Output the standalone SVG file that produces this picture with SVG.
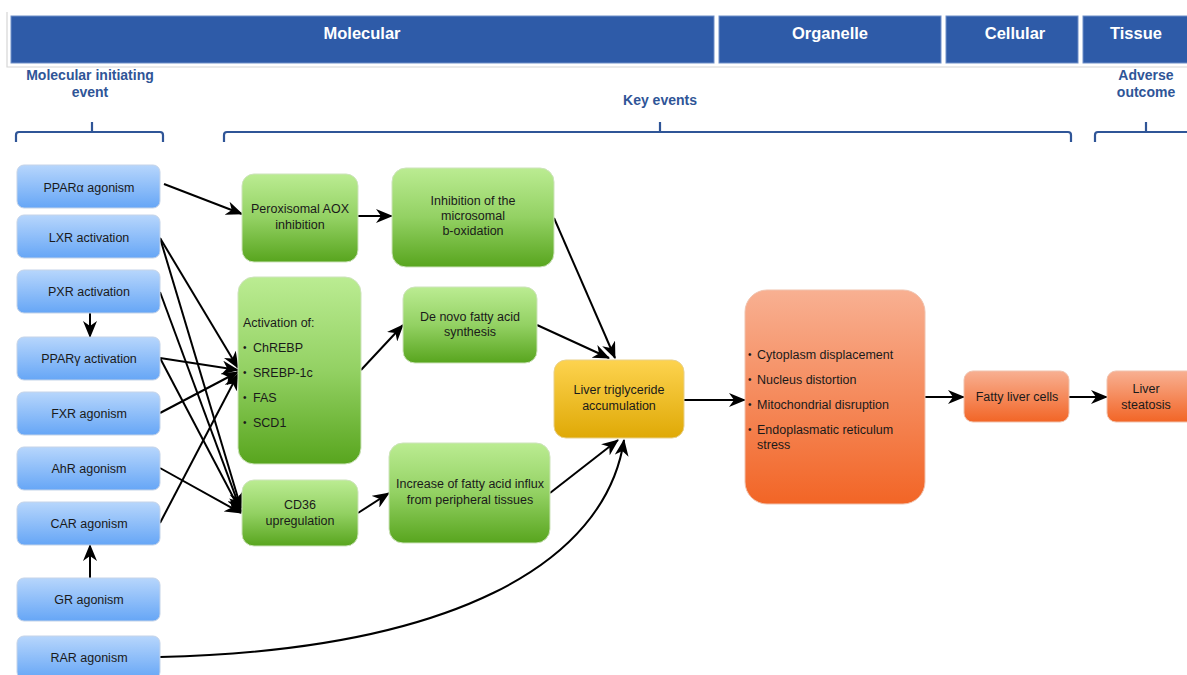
<svg xmlns="http://www.w3.org/2000/svg" width="1187" height="675" viewBox="0 0 1187 675">
<defs>
<style>
.hdr{fill:#2E5BA8;stroke:#6f8fc8;stroke-width:1}
.htx{font-family:"Liberation Sans",Arial,sans-serif;font-weight:bold;font-size:16.5px;fill:#ffffff;text-anchor:middle}
.lbl{font-family:"Liberation Sans",Arial,sans-serif;font-weight:bold;font-size:14px;fill:#2F5597;text-anchor:middle}
.brace{fill:none;stroke:#2F5597;stroke-width:2.2}
.blue{fill:url(#gBlue);stroke:#c4d3e8;stroke-width:1}
.green{fill:url(#gGreen);stroke:#cde3bb;stroke-width:1}
.yellow{fill:url(#gYellow);stroke:#e8d08a;stroke-width:1}
.orange{fill:url(#gOrange);stroke:#f0c2ad;stroke-width:1}
.t{font-family:"Liberation Sans",Arial,sans-serif;font-size:12.5px;fill:#1a1a1a;text-anchor:middle}
.tl{font-family:"Liberation Sans",Arial,sans-serif;font-size:12.5px;fill:#1a1a1a}
.bu{font-family:"Liberation Sans",Arial,sans-serif;font-size:10px;fill:#1a1a1a}
.c{fill:none;stroke:#000;stroke-width:2;marker-end:url(#arr)}
</style>
<linearGradient id="gBlue" x1="0" y1="0" x2="0" y2="1"><stop offset="0" stop-color="#B7D6FC"/><stop offset="1" stop-color="#66A6F6"/></linearGradient>
<linearGradient id="gGreen" x1="0" y1="0" x2="0" y2="1"><stop offset="0" stop-color="#BBEC92"/><stop offset="0.5" stop-color="#93D163"/><stop offset="1" stop-color="#58A51E"/></linearGradient>
<linearGradient id="gYellow" x1="0" y1="0" x2="0" y2="1"><stop offset="0" stop-color="#FDD34F"/><stop offset="1" stop-color="#DFA906"/></linearGradient>
<linearGradient id="gOrange" x1="0" y1="0" x2="0" y2="1"><stop offset="0" stop-color="#F8B092"/><stop offset="1" stop-color="#F26526"/></linearGradient>
<marker id="arr" viewBox="0 0 17 14" refX="16" refY="7" markerWidth="17" markerHeight="14" orient="auto" markerUnits="userSpaceOnUse">
<path d="M0,0 L17,7 L0,14 L5,7 z" fill="#000"/>
</marker>
</defs>
<rect width="1187" height="675" fill="#ffffff"/>

<g id="header">
<path d="M7,12 V67 H1187" fill="none" stroke="#d6d6d6" stroke-width="1.2"/>
<rect class="hdr" x="11" y="16" width="703" height="47"/>
<rect class="hdr" x="719" y="16" width="222" height="47"/>
<rect class="hdr" x="946" y="16" width="132" height="47"/>
<rect class="hdr" x="1083" y="16" width="110" height="47"/>
<text class="htx" x="362" y="39">Molecular</text>
<text class="htx" x="830" y="39">Organelle</text>
<text class="htx" x="1015" y="39">Cellular</text>
<text class="htx" x="1136" y="39">Tissue</text>
</g>

<g id="labels">
<text class="lbl" x="90" y="80">Molecular initiating</text>
<text class="lbl" x="90" y="97">event</text>
<text class="lbl" x="660" y="105">Key events</text>
<text class="lbl" x="1146" y="80">Adverse</text>
<text class="lbl" x="1146" y="97">outcome</text>
<path class="brace" d="M16,142 V135 Q16,132 19,132 H160 Q163,132 163,135 V142 M92,132 V122"/>
<path class="brace" d="M224,142 V135 Q224,132 227,132 H1068 Q1071,132 1071,135 V142 M660,132 V122"/>
<path class="brace" d="M1095,142 V135 Q1095,132 1098,132 H1190 M1146,132 V122"/>
</g>

<g id="connectors">
<path class="c" d="M164,184 L242,214"/>
<path class="c" d="M358,216 L392,216"/>
<path class="c" d="M554,218 L615,358"/>
<path class="c" d="M537,325 L609,358"/>
<path class="c" d="M361,370 L403,325"/>
<path class="c" d="M358,513 L389,493"/>
<path class="c" d="M550,493 L618,440"/>
<path class="c" d="M160,657 C450,650 605,565 624,440"/>
<path class="c" d="M684,400 L745,400"/>
<path class="c" d="M925,397 L964,397"/>
<path class="c" d="M1069,397 L1107,397"/>
<path class="c" d="M90,313 L90,337"/>
<path class="c" d="M90,578 L90,545"/>
<path class="c" d="M160,238 L238,368"/>
<path class="c" d="M160,238 L241,508"/>
<path class="c" d="M160,292 L241,511"/>
<path class="c" d="M160,358 L238,370"/>
<path class="c" d="M160,358 L241,512"/>
<path class="c" d="M160,413 L238,372"/>
<path class="c" d="M160,468 L241,513"/>
<path class="c" d="M160,523 L238,374"/>
</g>

<g id="n-ppara"><rect class="blue" x="17" y="165" width="143" height="43" rx="7"/><text class="t" x="89" y="192">PPARα agonism</text></g>
<g id="n-lxr"><rect class="blue" x="17" y="215" width="143" height="43" rx="7"/><text class="t" x="89" y="242">LXR activation</text></g>
<g id="n-pxr"><rect class="blue" x="17" y="270" width="143" height="43" rx="7"/><text class="t" x="89" y="296">PXR activation</text></g>
<g id="n-pparg"><rect class="blue" x="17" y="337" width="143" height="43" rx="7"/><text class="t" x="89" y="363">PPARγ activation</text></g>
<g id="n-fxr"><rect class="blue" x="17" y="392" width="143" height="43" rx="7"/><text class="t" x="89" y="418">FXR agonism</text></g>
<g id="n-ahr"><rect class="blue" x="17" y="447" width="143" height="43" rx="7"/><text class="t" x="89" y="473">AhR agonism</text></g>
<g id="n-car"><rect class="blue" x="17" y="502" width="143" height="43" rx="7"/><text class="t" x="89" y="528">CAR agonism</text></g>
<g id="n-gr"><rect class="blue" x="17" y="578" width="143" height="43" rx="7"/><text class="t" x="89" y="604">GR agonism</text></g>
<g id="n-rar"><rect class="blue" x="17" y="636" width="143" height="43" rx="7"/><text class="t" x="89" y="662">RAR agonism</text></g>

<g id="n-aox"><rect class="green" x="242" y="174" width="116" height="88" rx="12"/><text class="t" x="300" y="213">Peroxisomal AOX</text><text class="t" x="300" y="229">inhibition</text></g>
<g id="n-micro"><rect class="green" x="392" y="168" width="162" height="99" rx="14"/><text class="t" x="473" y="205">Inhibition of the</text><text class="t" x="473" y="220">microsomal</text><text class="t" x="473" y="235">b-oxidation</text></g>
<g id="n-activation"><rect class="green" x="238" y="277" width="123" height="187" rx="16"/>
<text class="tl" x="243" y="327">Activation of:</text>
<text class="bu" x="243" y="351">•</text><text class="tl" x="253" y="352">ChREBP</text>
<text class="bu" x="243" y="376">•</text><text class="tl" x="253" y="377">SREBP-1c</text>
<text class="bu" x="243" y="401">•</text><text class="tl" x="253" y="402">FAS</text>
<text class="bu" x="243" y="426">•</text><text class="tl" x="253" y="427">SCD1</text>
</g>
<g id="n-denovo"><rect class="green" x="403" y="287" width="134" height="76" rx="12"/><text class="t" x="470" y="321">De novo fatty acid</text><text class="t" x="470" y="336">synthesis</text></g>
<g id="n-cd36"><rect class="green" x="242" y="480" width="116" height="66" rx="12"/><text class="t" x="300" y="509">CD36</text><text class="t" x="300" y="525">upregulation</text></g>
<g id="n-influx"><rect class="green" x="389" y="443" width="161" height="100" rx="14"/><text class="t" x="470" y="488">Increase of fatty acid influx</text><text class="t" x="470" y="504">from peripheral tissues</text></g>
<g id="n-ltg"><rect class="yellow" x="554" y="360" width="130" height="78" rx="12"/><text class="t" x="619" y="394">Liver triglyceride</text><text class="t" x="619" y="410">accumulation</text></g>
<g id="n-organelle"><rect class="orange" x="745" y="290" width="180" height="214" rx="22"/>
<text class="bu" x="748" y="358">•</text><text class="tl" x="757" y="359">Cytoplasm displacement</text>
<text class="bu" x="748" y="383">•</text><text class="tl" x="757" y="384">Nucleus distortion</text>
<text class="bu" x="748" y="408">•</text><text class="tl" x="757" y="409">Mitochondrial disruption</text>
<text class="bu" x="748" y="433">•</text><text class="tl" x="757" y="434">Endoplasmatic reticulum</text>
<text class="tl" x="757" y="449">stress</text>
</g>
<g id="n-fatty"><rect class="orange" x="964" y="371" width="105" height="51" rx="9"/><text class="t" x="1017" y="401">Fatty liver cells</text></g>
<g id="n-steatosis"><rect class="orange" x="1107" y="371" width="92" height="51" rx="9"/><text class="t" x="1146" y="393">Liver</text><text class="t" x="1146" y="409">steatosis</text></g>
</svg>
